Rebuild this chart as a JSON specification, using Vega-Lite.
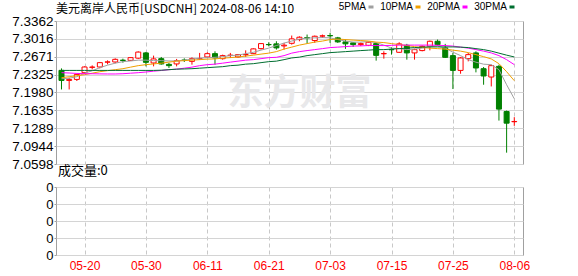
{
  "$schema": "https://vega.github.io/schema/vega-lite/v6.json",
  "background": "white",
  "padding": {"left": 11, "top": 2, "right": 0, "bottom": 0},
  "spacing": 23,
  "bounds": "flush",
  "datasets": {
    "k": [
      {"d":"05-15","o":7.2408,"h":7.2446,"l":7.2039,"c":7.2213,"v":0,"ma5":7.2246,"ma10":7.2266,"ma20":7.2363,"ma30":7.2407},
      {"d":"05-16","o":7.2213,"h":7.2266,"l":7.2039,"c":7.2233,"v":0,"ma5":7.2256,"ma10":7.2285,"ma20":7.2357,"ma30":7.2407},
      {"d":"05-17","o":7.2233,"h":7.2343,"l":7.2202,"c":7.2330,"v":0,"ma5":7.2285,"ma10":7.2305,"ma20":7.2349,"ma30":7.2407},
      {"d":"05-20","o":7.2363,"h":7.2485,"l":7.2343,"c":7.2473,"v":0,"ma5":7.2353,"ma10":7.2324,"ma20":7.2343,"ma30":7.2407},
      {"d":"05-21","o":7.2466,"h":7.2504,"l":7.2427,"c":7.2472,"v":0,"ma5":7.2400,"ma10":7.2353,"ma20":7.2343,"ma30":7.2407},
      {"d":"05-22","o":7.2473,"h":7.2570,"l":7.2446,"c":7.2557,"v":0,"ma5":7.2460,"ma10":7.2382,"ma20":7.2340,"ma30":7.2407},
      {"d":"05-23","o":7.2566,"h":7.2601,"l":7.2524,"c":7.2572,"v":0,"ma5":7.2508,"ma10":7.2402,"ma20":7.2338,"ma30":7.2407},
      {"d":"05-24","o":7.2570,"h":7.2640,"l":7.2543,"c":7.2621,"v":0,"ma5":7.2547,"ma10":7.2421,"ma20":7.2338,"ma30":7.2407},
      {"d":"05-27","o":7.2605,"h":7.2634,"l":7.2557,"c":7.2599,"v":0,"ma5":7.2576,"ma10":7.2440,"ma20":7.2343,"ma30":7.2407},
      {"d":"05-28","o":7.2601,"h":7.2660,"l":7.2595,"c":7.2654,"v":0,"ma5":7.2590,"ma10":7.2470,"ma20":7.2353,"ma30":7.2407},
      {"d":"05-29","o":7.2644,"h":7.2776,"l":7.2629,"c":7.2761,"v":0,"ma5":7.2605,"ma10":7.2499,"ma20":7.2363,"ma30":7.2407},
      {"d":"05-30","o":7.2745,"h":7.2764,"l":7.2485,"c":7.2563,"v":0,"ma5":7.2605,"ma10":7.2518,"ma20":7.2376,"ma30":7.2407},
      {"d":"05-31","o":7.2551,"h":7.2693,"l":7.2485,"c":7.2629,"v":0,"ma5":7.2596,"ma10":7.2532,"ma20":7.2392,"ma30":7.2407},
      {"d":"06-03","o":7.2634,"h":7.2667,"l":7.2518,"c":7.2532,"v":0,"ma5":7.2596,"ma10":7.2547,"ma20":7.2405,"ma30":7.2411},
      {"d":"06-04","o":7.2524,"h":7.2551,"l":7.2454,"c":7.2499,"v":0,"ma5":7.2590,"ma10":7.2567,"ma20":7.2421,"ma30":7.2421},
      {"d":"06-05","o":7.2532,"h":7.2629,"l":7.2485,"c":7.2596,"v":0,"ma5":7.2590,"ma10":7.2586,"ma20":7.2431,"ma30":7.2431},
      {"d":"06-06","o":7.2607,"h":7.2640,"l":7.2570,"c":7.2601,"v":0,"ma5":7.2605,"ma10":7.2596,"ma20":7.2450,"ma30":7.2435},
      {"d":"06-07","o":7.2582,"h":7.2660,"l":7.2518,"c":7.2634,"v":0,"ma5":7.2625,"ma10":7.2605,"ma20":7.2470,"ma30":7.2440},
      {"d":"06-10","o":7.2631,"h":7.2745,"l":7.2615,"c":7.2636,"v":0,"ma5":7.2644,"ma10":7.2615,"ma20":7.2499,"ma30":7.2450},
      {"d":"06-11","o":7.2667,"h":7.2757,"l":7.2654,"c":7.2731,"v":0,"ma5":7.2654,"ma10":7.2625,"ma20":7.2518,"ma30":7.2460},
      {"d":"06-12","o":7.2731,"h":7.2776,"l":7.2518,"c":7.2648,"v":0,"ma5":7.2660,"ma10":7.2629,"ma20":7.2528,"ma30":7.2470},
      {"d":"06-13","o":7.2634,"h":7.2712,"l":7.2615,"c":7.2693,"v":0,"ma5":7.2673,"ma10":7.2644,"ma20":7.2547,"ma30":7.2479},
      {"d":"06-14","o":7.2697,"h":7.2745,"l":7.2648,"c":7.2701,"v":0,"ma5":7.2693,"ma10":7.2654,"ma20":7.2567,"ma30":7.2499},
      {"d":"06-17","o":7.2667,"h":7.2722,"l":7.2654,"c":7.2712,"v":0,"ma5":7.2702,"ma10":7.2667,"ma20":7.2586,"ma30":7.2508},
      {"d":"06-18","o":7.2709,"h":7.2795,"l":7.2667,"c":7.2714,"v":0,"ma5":7.2731,"ma10":7.2683,"ma20":7.2605,"ma30":7.2528},
      {"d":"06-19","o":7.2731,"h":7.2834,"l":7.2722,"c":7.2823,"v":0,"ma5":7.2757,"ma10":7.2702,"ma20":7.2615,"ma30":7.2537},
      {"d":"06-20","o":7.2828,"h":7.2935,"l":7.2809,"c":7.2925,"v":0,"ma5":7.2799,"ma10":7.2722,"ma20":7.2634,"ma30":7.2557},
      {"d":"06-21","o":7.2908,"h":7.2951,"l":7.2873,"c":7.2904,"v":0,"ma5":7.2838,"ma10":7.2741,"ma20":7.2654,"ma30":7.2576},
      {"d":"06-24","o":7.2920,"h":7.2970,"l":7.2809,"c":7.2842,"v":0,"ma5":7.2887,"ma10":7.2770,"ma20":7.2660,"ma30":7.2586},
      {"d":"06-25","o":7.2880,"h":7.2939,"l":7.2809,"c":7.2895,"v":0,"ma5":7.2935,"ma10":7.2819,"ma20":7.2693,"ma30":7.2615},
      {"d":"06-26","o":7.2931,"h":7.3081,"l":7.2906,"c":7.3017,"v":0,"ma5":7.2974,"ma10":7.2857,"ma20":7.2741,"ma30":7.2648},
      {"d":"06-27","o":7.3003,"h":7.3066,"l":7.2970,"c":7.3048,"v":0,"ma5":7.3013,"ma10":7.2896,"ma20":7.2770,"ma30":7.2664},
      {"d":"06-28","o":7.3040,"h":7.3100,"l":7.2925,"c":7.3036,"v":0,"ma5":7.3032,"ma10":7.2925,"ma20":7.2790,"ma30":7.2693},
      {"d":"07-01","o":7.2984,"h":7.3081,"l":7.2939,"c":7.3067,"v":0,"ma5":7.3036,"ma10":7.2954,"ma20":7.2809,"ma30":7.2712},
      {"d":"07-02","o":7.3070,"h":7.3100,"l":7.3036,"c":7.3075,"v":0,"ma5":7.3042,"ma10":7.2974,"ma20":7.2828,"ma30":7.2731},
      {"d":"07-03","o":7.3081,"h":7.3133,"l":7.2939,"c":7.3075,"v":0,"ma5":7.3036,"ma10":7.3003,"ma20":7.2848,"ma30":7.2751},
      {"d":"07-04","o":7.3036,"h":7.3055,"l":7.2939,"c":7.2958,"v":0,"ma5":7.3003,"ma10":7.3013,"ma20":7.2857,"ma30":7.2760},
      {"d":"07-05","o":7.2958,"h":7.3003,"l":7.2823,"c":7.2920,"v":0,"ma5":7.2974,"ma10":7.3003,"ma20":7.2867,"ma30":7.2770},
      {"d":"07-08","o":7.2939,"h":7.2951,"l":7.2861,"c":7.2906,"v":0,"ma5":7.2954,"ma10":7.2993,"ma20":7.2877,"ma30":7.2780},
      {"d":"07-09","o":7.2906,"h":7.2945,"l":7.2877,"c":7.2925,"v":0,"ma5":7.2954,"ma10":7.2984,"ma20":7.2881,"ma30":7.2790},
      {"d":"07-10","o":7.2892,"h":7.2964,"l":7.2877,"c":7.2951,"v":0,"ma5":7.2964,"ma10":7.2974,"ma20":7.2887,"ma30":7.2799},
      {"d":"07-11","o":7.2925,"h":7.2945,"l":7.2596,"c":7.2698,"v":0,"ma5":7.2945,"ma10":7.2954,"ma20":7.2887,"ma30":7.2809},
      {"d":"07-12","o":7.2728,"h":7.2776,"l":7.2634,"c":7.2734,"v":0,"ma5":7.2896,"ma10":7.2945,"ma20":7.2887,"ma30":7.2809},
      {"d":"07-15","o":7.2812,"h":7.2854,"l":7.2712,"c":7.2806,"v":0,"ma5":7.2838,"ma10":7.2925,"ma20":7.2891,"ma30":7.2819},
      {"d":"07-16","o":7.2757,"h":7.2951,"l":7.2745,"c":7.2920,"v":0,"ma5":7.2828,"ma10":7.2906,"ma20":7.2896,"ma30":7.2828},
      {"d":"07-17","o":7.2892,"h":7.2920,"l":7.2615,"c":7.2745,"v":0,"ma5":7.2809,"ma10":7.2887,"ma20":7.2896,"ma30":7.2838},
      {"d":"07-18","o":7.2745,"h":7.2828,"l":7.2615,"c":7.2809,"v":0,"ma5":7.2819,"ma10":7.2867,"ma20":7.2896,"ma30":7.2848},
      {"d":"07-19","o":7.2790,"h":7.2887,"l":7.2776,"c":7.2873,"v":0,"ma5":7.2838,"ma10":7.2848,"ma20":7.2896,"ma30":7.2857},
      {"d":"07-22","o":7.2873,"h":7.2984,"l":7.2795,"c":7.2970,"v":0,"ma5":7.2867,"ma10":7.2838,"ma20":7.2896,"ma30":7.2861},
      {"d":"07-23","o":7.2970,"h":7.3003,"l":7.2887,"c":7.2906,"v":0,"ma5":7.2877,"ma10":7.2828,"ma20":7.2892,"ma30":7.2861},
      {"d":"07-24","o":7.2842,"h":7.2920,"l":7.2648,"c":7.2660,"v":0,"ma5":7.2838,"ma10":7.2819,"ma20":7.2887,"ma30":7.2861},
      {"d":"07-25","o":7.2693,"h":7.2745,"l":7.2047,"c":7.2407,"v":0,"ma5":7.2760,"ma10":7.2799,"ma20":7.2877,"ma30":7.2861},
      {"d":"07-26","o":7.2407,"h":7.2667,"l":7.2343,"c":7.2648,"v":0,"ma5":7.2693,"ma10":7.2780,"ma20":7.2857,"ma30":7.2857},
      {"d":"07-29","o":7.2634,"h":7.2745,"l":7.2582,"c":7.2712,"v":0,"ma5":7.2615,"ma10":7.2751,"ma20":7.2838,"ma30":7.2848},
      {"d":"07-30","o":7.2745,"h":7.2776,"l":7.2369,"c":7.2454,"v":0,"ma5":7.2566,"ma10":7.2712,"ma20":7.2809,"ma30":7.2828},
      {"d":"07-31","o":7.2440,"h":7.2473,"l":7.2130,"c":7.2299,"v":0,"ma5":7.2527,"ma10":7.2673,"ma20":7.2780,"ma30":7.2809},
      {"d":"08-01","o":7.2279,"h":7.2518,"l":7.2097,"c":7.2499,"v":0,"ma5":7.2518,"ma10":7.2629,"ma20":7.2745,"ma30":7.2780},
      {"d":"08-02","o":7.2485,"h":7.2518,"l":7.1437,"c":7.1659,"v":0,"ma5":7.2421,"ma10":7.2537,"ma20":7.2693,"ma30":7.2741},
      {"d":"08-05","o":7.1612,"h":7.1631,"l":7.0817,"c":7.1387,"v":0,"ma5":7.2130,"ma10":7.2382,"ma20":7.2615,"ma30":7.2702},
      {"d":"08-06","o":7.1415,"h":7.1503,"l":7.1335,"c":7.1420,"v":0,"ma5":7.1858,"ma10":7.2208,"ma20":7.2518,"ma30":7.2667}
    ]
  },
  "config": {
    "view": {"stroke": "#a0a0a0", "strokeWidth": 1},
    "axis": {"gridColor": "#d4d4d4", "gridWidth": 1, "labelFont": "Liberation Sans", "labelColor": "#000000", "tickColor": "#a0a0a0", "domain": false, "title": null},
    "axisY": {"labelOverlap": false, "labelFlush": false, "tickSize": 2, "labelPadding": 1}
  },
  "vconcat": [
    {
      "width": 467,
      "height": 143,
      "data": {"name": "k"},
      "title": {"text": "美元离岸人民币[USDCNH] 2024-08-06 14:10", "anchor": "start", "frame": "group", "fontSize": 12, "fontWeight": "normal", "font": "Noto Sans CJK SC", "color": "#000000", "offset": 0, "dy": 2},
      "encoding": {
        "x": {"field": "d", "type": "ordinal", "sort": "ascending",
              "scale": {"type": "point", "padding": 0.925, "align": 0.387},
              "axis": {"values": ["05-20","05-30","06-11","06-21","07-03","07-15","07-25","08-06"], "labels": false, "ticks": false, "domain": false, "grid": true, "gridDash": [4, 3], "gridColor": "#c8c8c8"}}
      },
      "layer": [
        {
          "data": {"values": [{}]},
          "mark": {"type": "text", "text": "东方财富", "font": "Noto Sans CJK SC", "fontWeight": "bold", "fontSize": 36, "color": "#e8e8ea", "align": "center", "baseline": "middle"},
          "encoding": {
            "x": {"datum": "06-27", "type": "ordinal"},
            "y": {"datum": 7.1955, "type": "quantitative",
                  "axis": {"values": [7.0598, 7.0944, 7.1289, 7.1635, 7.198, 7.2325, 7.2671, 7.3016, 7.3362], "format": ".4f", "labelFontSize": 13.5, "grid": true}}
          }
        },
        {
          "mark": {"type": "rule", "strokeWidth": 1},
          "encoding": {
            "y": {"field": "l", "type": "quantitative", "scale": {"domain": [7.0598, 7.3362], "nice": false, "zero": false},
                  "axis": {"values": [7.0598, 7.0944, 7.1289, 7.1635, 7.198, 7.2325, 7.2671, 7.3016, 7.3362], "format": ".4f", "labelFontSize": 13.5, "grid": true}},
            "y2": {"field": "h"},
            "color": {"condition": {"test": "datum.c > datum.o", "value": "#ff0000"}, "value": "#008000"}
          }
        },
        {
          "mark": {"type": "bar", "size": 5, "strokeWidth": 1},
          "encoding": {
            "y": {"field": "o", "type": "quantitative",
                  "axis": {"values": [7.0598, 7.0944, 7.1289, 7.1635, 7.198, 7.2325, 7.2671, 7.3016, 7.3362], "format": ".4f", "labelFontSize": 13.5, "grid": true}},
            "y2": {"field": "c"},
            "fill": {"condition": {"test": "datum.c > datum.o", "value": "#ffffff"}, "value": "#008000"},
            "stroke": {"condition": {"test": "datum.c > datum.o", "value": "#ff0000"}, "value": "#008000"}
          }
        },
        {
          "transform": [{"fold": ["ma5", "ma10", "ma20", "ma30"], "as": ["ma", "val"]}],
          "mark": {"type": "line", "strokeWidth": 1},
          "encoding": {
            "y": {"field": "val", "type": "quantitative",
                  "axis": {"values": [7.0598, 7.0944, 7.1289, 7.1635, 7.198, 7.2325, 7.2671, 7.3016, 7.3362], "format": ".4f", "labelFontSize": 13.5, "grid": true}},
            "color": {"field": "ma", "type": "nominal",
                      "scale": {"domain": ["ma5", "ma10", "ma20", "ma30"], "range": ["#a0a0a0", "#f0a000", "#ff00ff", "#006e30"]},
                      "legend": {"orient": "none", "legendX": 310, "legendY": -19, "direction": "horizontal", "title": null,
                                 "labelExpr": "replace(datum.label, 'ma', '') + 'PMA'",
                                 "labelFont": "Liberation Sans", "labelFontSize": 10, "labelColor": "#000000",
                                 "symbolType": "M-1,0H1", "symbolSize": 25, "symbolStrokeWidth": 3,
                                 "labelAlign": "right", "labelOffset": -10, "columnPadding": 0}}
          }
        }
      ]
    },
    {
      "width": 467,
      "height": 68,
      "data": {"name": "k"},
      "title": {"text": "成交量:0", "anchor": "start", "frame": "group", "fontSize": 13, "fontWeight": "normal", "font": "Noto Sans CJK SC", "color": "#000000", "offset": 3, "dx": 2},
      "mark": {"type": "bar", "size": 5, "color": "#008000"},
      "encoding": {
        "x": {"field": "d", "type": "ordinal", "sort": "ascending",
              "scale": {"type": "point", "padding": 0.925, "align": 0.387},
              "axis": {"values": ["05-20","05-30","06-11","06-21","07-03","07-15","07-25","08-06"], "labelColor": "#ff0000", "labelFontSize": 12, "labelAngle": 0, "labelPadding": 5, "ticks": false, "domain": false, "grid": true, "gridDash": [4, 3], "gridColor": "#c8c8c8"}},
        "y": {"field": "v", "type": "quantitative", "scale": {"domain": [0, 4], "nice": false},
              "axis": {"values": [0, 1, 2, 3, 4], "labelExpr": "'0'", "labelFontSize": 13, "grid": true}}
      }
    }
  ]
}
